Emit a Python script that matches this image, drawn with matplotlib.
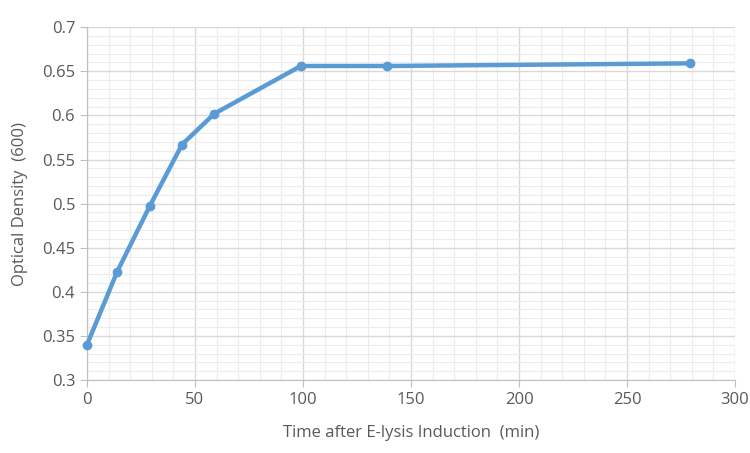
import matplotlib.pyplot as plt
from matplotlib.ticker import MultipleLocator

time_min = [0, 14, 29, 44, 59, 99, 139, 279]
od600 = [0.340, 0.423, 0.497, 0.567, 0.602, 0.656, 0.656, 0.659]

plt.rcParams['font.family'] = ['Open Sans', 'DejaVu Sans']

fig = plt.figure(figsize=(7.5, 4.53), dpi=100)
ax = fig.add_axes([0.116, 0.161, 0.864, 0.779])

ax.plot(time_min, od600, color='#5b9bd5', lw=3.2, marker='o', ms=6,
        solid_capstyle='round', zorder=3, clip_on=False)

ax.set_xlim(0, 300)
ax.set_ylim(0.3, 0.7)
ax.xaxis.set_major_locator(MultipleLocator(50))
ax.xaxis.set_minor_locator(MultipleLocator(10))
ax.yaxis.set_minor_locator(MultipleLocator(0.01))
ax.set_yticks([0.3, 0.35, 0.4, 0.45, 0.5, 0.55, 0.6, 0.65, 0.7])
ax.set_yticklabels(['0.3', '0.35', '0.4', '0.45', '0.5', '0.55', '0.6', '0.65', '0.7'])

ax.grid(which='major', color='#d9d9d9', lw=1)
ax.grid(which='minor', color='#ececec', lw=0.8)
ax.set_axisbelow(True)

for s in ['top', 'right']:
    ax.spines[s].set_visible(False)
for s in ['left', 'bottom']:
    ax.spines[s].set_color('#bfbfbf')
ax.tick_params(which='major', length=5, color='#bfbfbf', labelsize=12,
               labelcolor='#595959')
ax.tick_params(which='minor', length=0)

ax.set_xlabel('Time after E-lysis Induction  (min)', fontsize=12,
              color='#595959', labelpad=12)
ax.set_ylabel('Optical Density  (600)', fontsize=12, color='#595959',
              labelpad=10)

fig.savefig('out.png', dpi=100)
